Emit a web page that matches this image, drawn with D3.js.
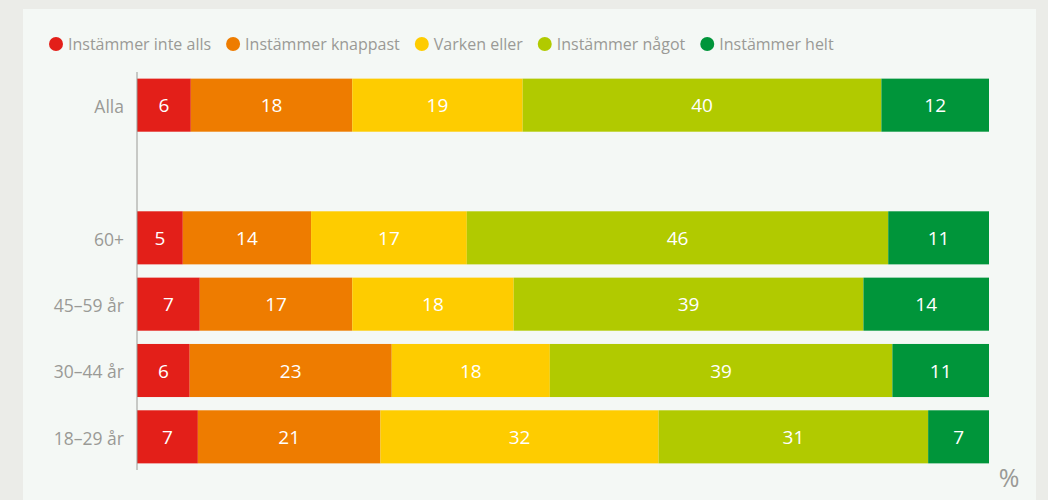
<!DOCTYPE html>
<html>
<head>
<meta charset="utf-8">
<script src="https://cdn.jsdelivr.net/npm/d3@7"></script>
<style>
  body { margin: 0; background: #ebece8; }
  svg { display: block; font-family: "Open Sans", Lato, sans-serif; }
</style>
</head>
<body>
<svg id="chart" width="1048" height="500"></svg>
<script>
// ===== data =====
var groups = ["Alla", "", "60+", "45–59 år", "30–44 år", "18–29 år"];
var answers = ["Instämmer inte alls", "Instämmer knappast", "Varken eller", "Instämmer något", "Instämmer helt"];
var colors = ["#e31f19", "#ee7c00", "#fecc00", "#b1ca00", "#00953a"];
var alla = [6, 18, 19, 40, 12];
var age60 = [5, 14, 17, 46, 11];
var age45 = [7, 17, 18, 39, 14];
var age30 = [6, 23, 18, 39, 11];
var age18 = [7, 21, 32, 31, 7];
var rows = [
  { grp: "Alla", vals: alla },
  { grp: "60+", vals: age60 },
  { grp: "45–59 år", vals: age45 },
  { grp: "30–44 år", vals: age30 },
  { grp: "18–29 år", vals: age18 }
];

var svg = d3.select("#chart");

// panel
svg.append("rect")
  .attr("x", 23).attr("y", 9)
  .attr("width", 1013).attr("height", 500)
  .attr("fill", "#f4f8f5");

var x = d3.scaleLinear().domain([0, 1]).range([137, 989]);
var y = d3.scaleBand().domain(groups).range([72, 470]).paddingInner(0.2).paddingOuter(0.1);

// ===== bars =====
rows.forEach(function(r) {
  var total = d3.sum(r.vals);
  var cum = 0;
  var segs = r.vals.map(function(v, i) {
    var s = { v: v, i: i, x0: cum / total, x1: (cum + v) / total };
    cum += v;
    return s;
  });
  var g = svg.append("g");
  g.selectAll("rect").data(segs).enter().append("rect")
    .attr("x", function(d) { return x(d.x0); })
    .attr("width", function(d) { return x(d.x1) - x(d.x0); })
    .attr("y", y(r.grp))
    .attr("height", y.bandwidth())
    .attr("fill", function(d) { return colors[d.i]; });
  g.selectAll("text").data(segs).enter().append("text")
    .attr("x", function(d) { return (x(d.x0) + x(d.x1)) / 2; })
    .attr("y", y(r.grp) + y.bandwidth() / 2)
    .attr("dy", "0.38em")
    .attr("text-anchor", "middle")
    .attr("fill", "#fff")
    .style("font-size", "19px")
    .text(function(d) { return d.v; });
});

// ===== y axis =====
var yAxis = svg.append("g")
  .attr("transform", "translate(137,0)")
  .call(d3.axisLeft(y).tickSize(0).tickPadding(13));
yAxis.select(".domain").attr("stroke", "#9a9a96").attr("d", "M0,72V470");
yAxis.selectAll("text")
  .attr("fill", "#9a9a96")
  .attr("dy", "0.45em")
  .style("font-size", "17.5px")
  .style("font-family", "'Open Sans', sans-serif");

// % label
svg.append("text")
  .attr("x", 1009).attr("y", 487)
  .attr("text-anchor", "middle")
  .attr("fill", "#9a9a96")
  .style("font-size", "25px")
  .text("%");

// ===== legend =====
var legend = svg.append("g");
var lx = 56;
answers.forEach(function(a, i) {
  legend.append("circle")
    .attr("cx", lx).attr("cy", 44).attr("r", 7)
    .attr("fill", colors[i]);
  var t = legend.append("text")
    .attr("x", lx + 12).attr("y", 44)
    .attr("dy", "0.35em")
    .attr("fill", "#9a9a96")
    .style("font-size", "16px")
    .text(a);
  lx += 12 + t.node().getComputedTextLength() + 22;
});
</script>
</body>
</html>
